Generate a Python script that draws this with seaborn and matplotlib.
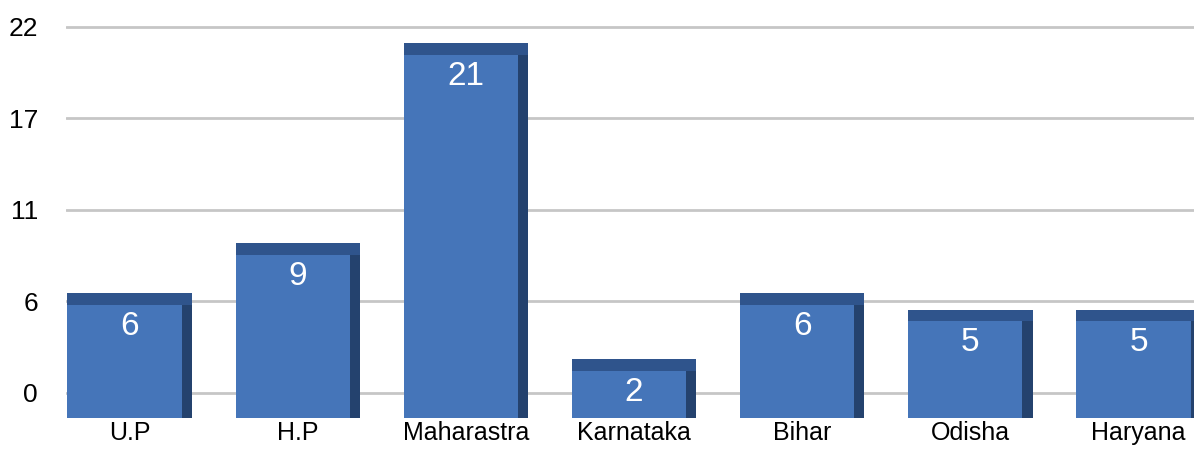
import numpy as np
import pandas as pd
import matplotlib
matplotlib.use("Agg")
import matplotlib.pyplot as plt
import seaborn as sns

# chart data
states = ["U.P", "H.P", "Maharastra", "Karnataka", "Bihar", "Odisha", "Haryana"]
counts = [6, 9, 21, 2, 6, 5, 5]
y_ticks = [0, 5.5, 11, 16.5, 22]
y_tick_labels = ["0", "6", "11", "17", "22"]

df = pd.DataFrame({"State": states, "Count": counts})

sns.set_style("white")
plt.rcParams["font.family"] = ["Liberation Sans", "DejaVu Sans"]

fig = plt.figure(figsize=(11.94, 4.5), dpi=100)
ax = fig.add_axes([0.055, 0.068, 0.945, 0.884])

front = "#4575B9"
top_face = "#2F548C"
side = "#24426E"
depth = 1.5  # fake 3D base below zero

sns.barplot(data=df, x="State", y="Count", color=front, width=0.74,
            saturation=1, ax=ax, zorder=3)

for p, v in zip(ax.patches, counts):
    x0, w = p.get_x(), p.get_width()
    p.set_y(-depth)
    p.set_height(v + depth)
    p.set_edgecolor("none")
    # top face
    ax.bar(x0 + w / 2, 0.7, bottom=v - 0.7, width=w, color=top_face,
           zorder=4, linewidth=0)
    # right side face
    ax.bar(x0 + w - 0.03, v + depth - 0.7, bottom=-depth, width=0.06,
           color=side, zorder=4, linewidth=0)
    ax.text(x0 + w / 2, v - 2.0, str(v), ha="center", va="center",
            color="white", fontsize=24, zorder=5)

ax.set_xlim(-0.38, 6.33)
ax.set_ylim(-1.6, 22.3)
ax.set_yticks(y_ticks)
ax.set_yticklabels(y_tick_labels)
ax.yaxis.grid(True, color="#c6c6c6", linewidth=2, zorder=0)
ax.set_axisbelow(True)
ax.tick_params(axis="y", length=0, pad=20, labelsize=19, labelcolor="black")
ax.tick_params(axis="x", length=0, pad=1, labelsize=18, labelcolor="black")
ax.set_xlabel("")
ax.set_ylabel("")
sns.despine(ax=ax, left=True, bottom=True, right=True, top=True)

fig.savefig("out.png", dpi=100)
